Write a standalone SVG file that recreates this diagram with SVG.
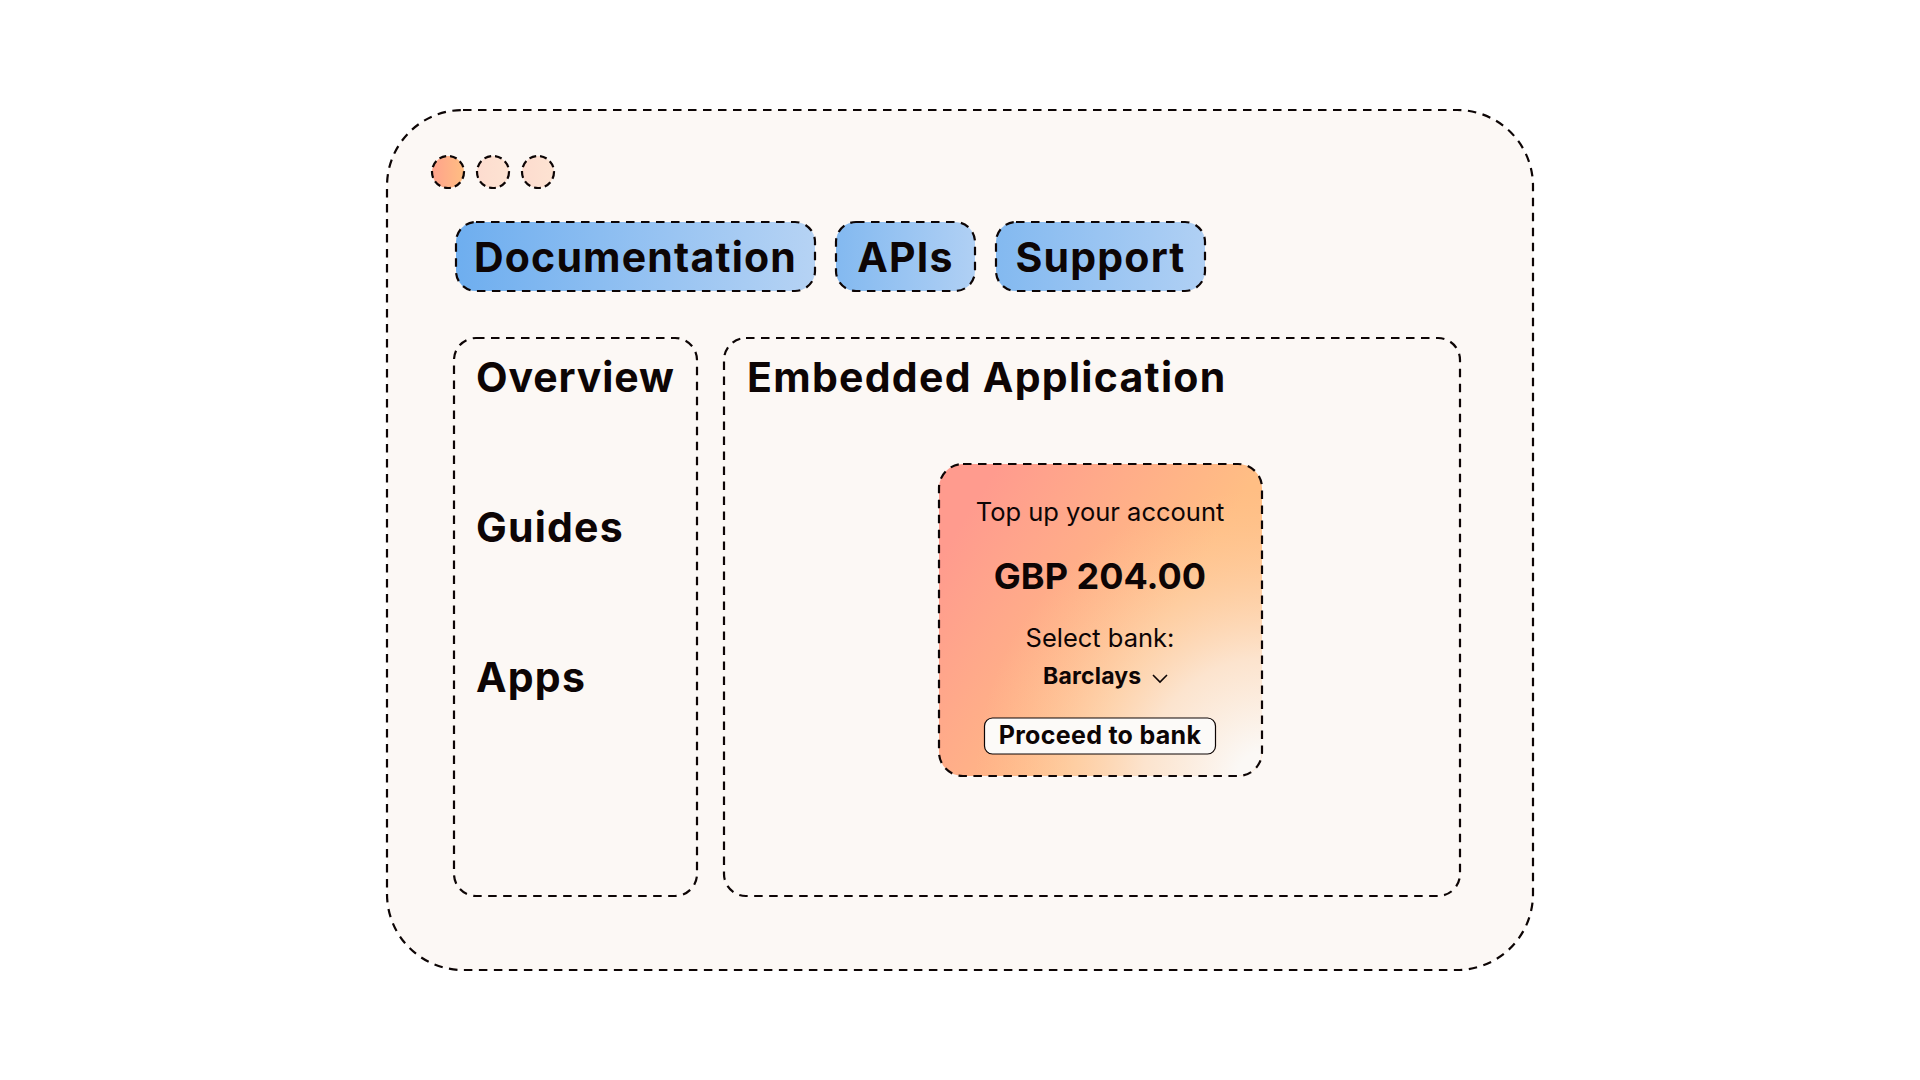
<svg xmlns="http://www.w3.org/2000/svg" width="1920" height="1080" viewBox="0 0 1920 1080">
<style>
.d{stroke:#0d0505;stroke-width:2.2;stroke-dasharray:8.500 6.500;}
.t{font-family:Inter,"Liberation Sans",sans-serif;fill:#0d0505;}
.b{font-weight:700;font-size:41px;letter-spacing:1.200px;}
.o{letter-spacing:.9px;}
.e{letter-spacing:1.280px;}
.c{text-anchor:middle;}
.k{stroke-dasharray:7 4;}
</style>
<defs>
<linearGradient id="tab1" x1="0" x2="1" y1="0" y2="0"><stop offset="0" stop-color="#6eaeef"/><stop offset="1" stop-color="#b6d3f4"/></linearGradient>
<linearGradient id="tab2" x1="0" x2="1" y1="0" y2="0"><stop offset="0" stop-color="#83b9f0"/><stop offset="1" stop-color="#b0d0f4"/></linearGradient>
<linearGradient id="dot1" x1="0" x2="1" y1="0" y2="0"><stop offset="0" stop-color="#ffa28c"/><stop offset="1" stop-color="#ffbe82"/></linearGradient>
<linearGradient id="dot2" x1="0" x2="1" y1="0" y2="0"><stop offset="0" stop-color="#fddccf"/><stop offset="1" stop-color="#fde3d2"/></linearGradient>
<linearGradient id="card" gradientUnits="userSpaceOnUse" x1="950" y1="540" x2="1140" y2="660"><stop offset="0" stop-color="#ff9b8e"/><stop offset="1" stop-color="#ffbe84"/></linearGradient>
<radialGradient id="glow" gradientUnits="userSpaceOnUse" cx="1265" cy="780" r="290"><stop offset="0.1" stop-color="#fbf8f5"/><stop offset="0.42" stop-color="#fbf0e6" stop-opacity=".75"/><stop offset="1" stop-color="#ffcfa0" stop-opacity="0"/></radialGradient>
</defs>
<rect width="1920" height="1080" fill="#fff"/>
<g id="window"><rect class="d" x="387" y="110" width="1146" height="860" rx="76" fill="#fcf8f5"/></g>
<g id="dot-1"><circle class="d k" cx="448" cy="172" r="16" fill="url(#dot1)"/></g>
<g id="dot-2"><circle class="d k" cx="493" cy="172" r="16" fill="url(#dot2)"/></g>
<g id="dot-3"><circle class="d k" cx="538" cy="172" r="16" fill="url(#dot2)"/></g>
<g id="tab-documentation"><rect class="d" x="456" y="222" width="359" height="69" rx="20" fill="url(#tab1)"/><text class="t b c" x="635.500" y="272">Documentation</text></g>
<g id="tab-apis"><rect class="d" x="836" y="222" width="139" height="69" rx="20" fill="url(#tab2)"/><text class="t b c" x="905.500" y="272">APIs</text></g>
<g id="tab-support"><rect class="d" x="996" y="222" width="209" height="69" rx="20" fill="url(#tab2)"/><text class="t b c" x="1100.500" y="272">Support</text></g>
<g id="sidebar"><rect class="d" x="454" y="338" width="243" height="558" rx="22" fill="none"/>
<text class="t b o" x="476" y="392">Overview</text>
<text class="t b" x="476" y="542">Guides</text>
<text class="t b" x="476" y="692">Apps</text></g>
<g id="embedded"><rect class="d" x="724" y="338" width="736" height="558" rx="22" fill="none"/>
<text class="t b e" x="747" y="392">Embedded Application</text></g>
<g id="card-node"><rect x="939" y="464" width="323" height="312" rx="24" fill="url(#card)"/><rect class="d" x="939" y="464" width="323" height="312" rx="24" fill="url(#glow)"/>
<text class="t c" x="1100" y="521" font-size="25.500" font-weight="400">Top up your account</text>
<text class="t c" x="1100" y="589" font-size="36" font-weight="700">GBP 204.00</text>
<text class="t c" x="1100" y="647" font-size="25.500" font-weight="400">Select bank:</text>
<text class="t" x="1043" y="684" font-size="23" font-weight="700" letter-spacing=".2">Barclays</text>
<path d="M1153 675l7 7 7-7" fill="none" stroke="#0d0505" stroke-width="1.600"/></g>
<g id="button"><rect x="984.500" y="718" width="231" height="36" rx="8" fill="#fcfaf8" stroke="#0d0505" stroke-width="1.200"/>
<text class="t c" x="1100" y="744" font-size="25" font-weight="700" letter-spacing=".3">Proceed to bank</text></g>
<g id="connectors"/>
</svg>
